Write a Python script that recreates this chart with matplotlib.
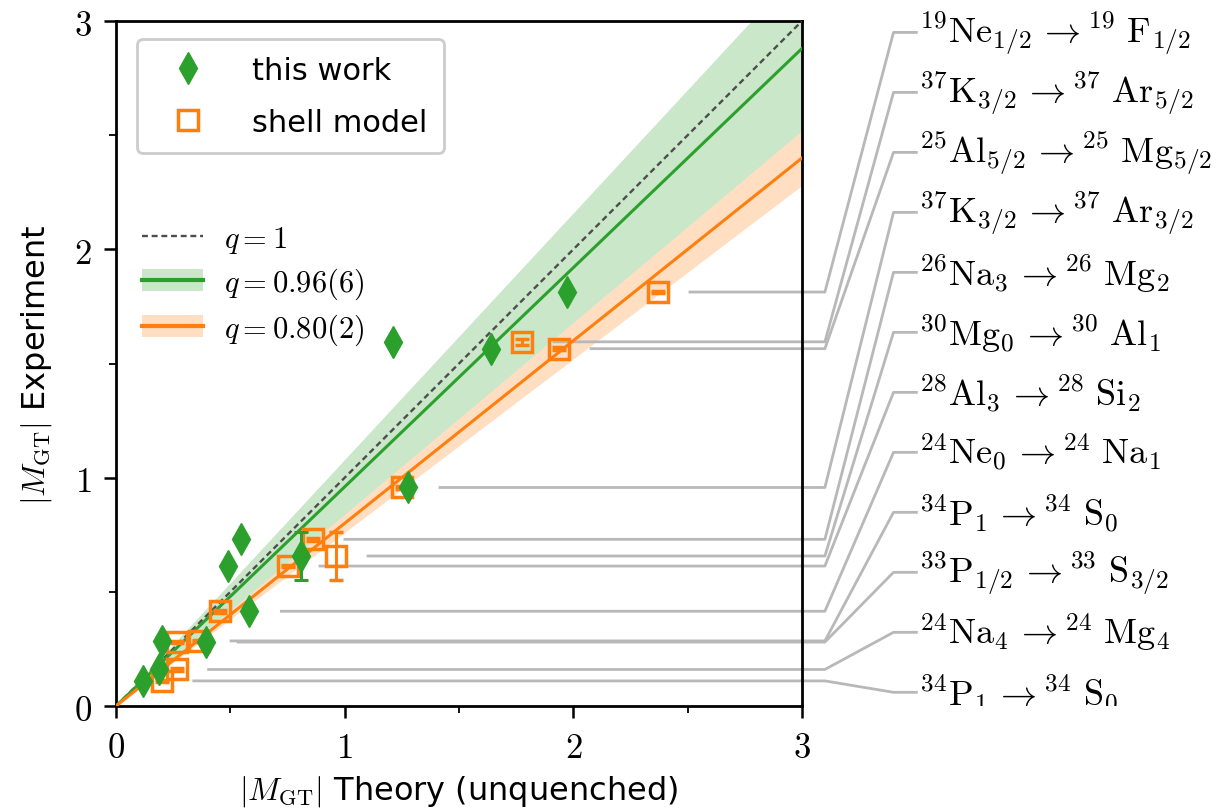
import numpy as np
import matplotlib.pyplot as plt
from matplotlib.lines import Line2D
from matplotlib.patches import Patch
from matplotlib.transforms import Bbox, TransformedBbox

plt.rcParams['mathtext.fontset'] = 'cm'

# transitions, sorted by experimental |M_GT| (top label -> largest value)
transitions = [
    r'$^{19}\mathrm{Ne}_{1/2}\,{\rightarrow}^{19}\ \mathrm{F}_{1/2}$',
    r'$^{37}\mathrm{K}_{3/2}\,{\rightarrow}^{37}\ \mathrm{Ar}_{5/2}$',
    r'$^{25}\mathrm{Al}_{5/2}\,{\rightarrow}^{25}\ \mathrm{Mg}_{5/2}$',
    r'$^{37}\mathrm{K}_{3/2}\,{\rightarrow}^{37}\ \mathrm{Ar}_{3/2}$',
    r'$^{26}\mathrm{Na}_{3}\,{\rightarrow}^{26}\ \mathrm{Mg}_{2}$',
    r'$^{30}\mathrm{Mg}_{0}\,{\rightarrow}^{30}\ \mathrm{Al}_{1}$',
    r'$^{28}\mathrm{Al}_{3}\,{\rightarrow}^{28}\ \mathrm{Si}_{2}$',
    r'$^{24}\mathrm{Ne}_{0}\,{\rightarrow}^{24}\ \mathrm{Na}_{1}$',
    r'$^{34}\mathrm{P}_{1}\,{\rightarrow}^{34}\ \mathrm{S}_{0}$',
    r'$^{33}\mathrm{P}_{1/2}\,{\rightarrow}^{33}\ \mathrm{S}_{3/2}$',
    r'$^{24}\mathrm{Na}_{4}\,{\rightarrow}^{24}\ \mathrm{Mg}_{4}$',
    r'$^{34}\mathrm{P}_{1}\,{\rightarrow}^{34}\ \mathrm{S}_{0}$',
]
m_exp = [1.813, 1.595, 1.565, 0.957, 0.730, 0.657, 0.613, 0.415, 0.285, 0.280, 0.160, 0.110]
m_exp_err = [0.006, 0.012, 0.006, 0.006, 0.006, 0.105, 0.006, 0.006, 0.006, 0.006, 0.006, 0.006]
m_this = [1.972, 1.211, 1.640, 1.277, 0.547, 0.809, 0.490, 0.583, 0.200, 0.394, 0.190, 0.120]
m_shell = [2.370, 1.775, 1.937, 1.250, 0.861, 0.962, 0.752, 0.455, 0.363, 0.265, 0.265, 0.200]

q_fit = [0.96, 0.80]
q_band = [0.12, 0.04]
q_labels = [r'$q=1$', r'$q=0.96(6)$', r'$q=0.80(2)$']

ticks = [0, 1, 2, 3]
minor_ticks = [0.5, 1.5, 2.5]

green = '#2ca02c'
orange = '#ff7f0e'

fig = plt.figure(figsize=(12.2, 8.12), dpi=100)
ax = fig.add_axes([0.0951, 0.1293, 0.5623, 0.8436])

x = np.array([0.0, 3.0])
ax.plot(x, x, ls=(0, (2.5, 1.6)), color='#4d4d4d', lw=1.7, zorder=3)
ax.fill_between(x, (q_fit[1] - q_band[1]) * x, (q_fit[1] + q_band[1]) * x,
                color=orange, alpha=0.25, lw=0, zorder=1)
ax.fill_between(x, (q_fit[0] - q_band[0]) * x, (q_fit[0] + q_band[0]) * x,
                color=green, alpha=0.25, lw=0, zorder=1)
ax.plot(x, q_fit[0] * x, color=green, lw=2.2, zorder=3)
ax.plot(x, q_fit[1] * x, color=orange, lw=2.2, zorder=3)

ax.errorbar(m_shell, m_exp, yerr=m_exp_err, fmt='s', ms=15, mfc='none', mec=orange,
            mew=2.5, ecolor=orange, elinewidth=2.2, capsize=5, capthick=2.2, zorder=4)
ax.errorbar(m_this, m_exp, yerr=m_exp_err, fmt='d', ms=16, color=green,
            elinewidth=2.2, capsize=5, capthick=2.2, zorder=5)

# connectors to the labels on the right
label_y = np.linspace(2.95, 0.06, len(transitions))
clip = TransformedBbox(Bbox([[0, 0], [2, 1.2]]), ax.transAxes)
for i in range(len(transitions)):
    xs = max(m_this[i], m_shell[i]) + 0.14
    ax.plot([xs, 3.10, 3.40, 3.50], [m_exp[i], m_exp[i], label_y[i], label_y[i]],
            color='#b8b8b8', lw=2.0, clip_on=False, zorder=2)
    t = ax.text(3.51, label_y[i], transitions[i], fontsize=26, ha='left', va='center')
    t.set_clip_path(None)
    t.set_clip_box(clip)
    t.set_clip_on(True)

ax.set_xlim(0, 3)
ax.set_ylim(0, 3)
ax.set_xticks(ticks)
ax.set_yticks(ticks)
ax.set_xticklabels(['$%d$' % v for v in ticks])
ax.set_yticklabels(['$%d$' % v for v in ticks])
ax.set_xticks(minor_ticks, minor=True)
ax.set_yticks(minor_ticks, minor=True)
ax.tick_params(which='major', length=8.5, width=1.8, labelsize=25, pad=9)
ax.tick_params(which='minor', length=5, width=1.3)
for s in ax.spines.values():
    s.set_linewidth(2)

ax.set_xlabel(r'$|M_{\mathrm{GT}}|$ Theory (unquenched)', fontsize=23, labelpad=6)
ax.set_ylabel(r'$|M_{\mathrm{GT}}|$ Experiment', fontsize=23, labelpad=14)

h1 = [Line2D([], [], marker='d', ls='none', color=green, ms=16),
      Line2D([], [], marker='s', ls='none', mfc='none', mec=orange, mew=2.5, ms=15)]
leg1 = ax.legend(h1, ['this work', 'shell model'], loc='upper left',
                 bbox_to_anchor=(0.031, 0.974), borderaxespad=0, fontsize=22,
                 handlelength=2.2, handletextpad=1.0, edgecolor='#cccccc',
                 framealpha=1, borderpad=0.55, labelspacing=0.75)
leg1.get_frame().set_linewidth(2)
ax.add_artist(leg1)

h2 = [Line2D([], [], ls=(0, (2.5, 1.6)), color='#4d4d4d', lw=1.7),
      (Patch(color=green, alpha=0.25, lw=0), Line2D([], [], color=green, lw=3)),
      (Patch(color=orange, alpha=0.25, lw=0), Line2D([], [], color=orange, lw=3))]
ax.legend(h2, q_labels, loc='upper left', bbox_to_anchor=(0.02, 0.722),
          borderaxespad=0, frameon=False, fontsize=22, handlelength=2.0,
          handletextpad=0.7, labelspacing=0.35)

fig.savefig('out.png', dpi=100)
